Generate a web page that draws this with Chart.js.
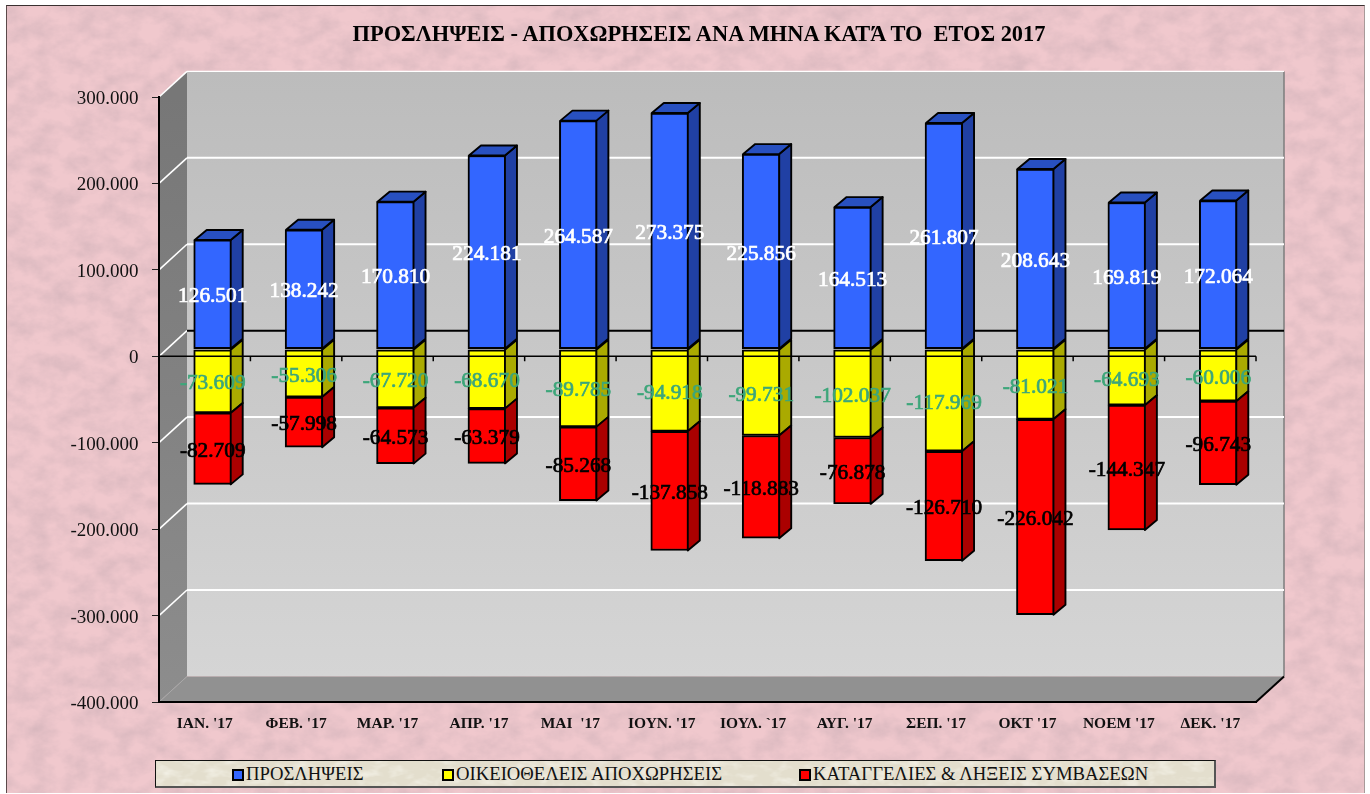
<!DOCTYPE html>
<html lang="el">
<head>
    <meta charset="UTF-8">
    <title>Προσλήψεις - Αποχωρήσεις 2017</title>
    <script src="https://cdn.jsdelivr.net/npm/chart.js"></script>
    <style>
        html, body { margin: 0; padding: 0; background: #fff; overflow: hidden; }
        #page { position: relative; width: 1370px; height: 794px; font-family: "Liberation Serif", serif; }
        #paper { position: absolute; left: 6px; top: 5px; width: 1359px; height: 788px; border-left: 1px solid #5a4a4a; border-top: 1px solid #3a3030; border-right: 1px solid #a89a9a; box-sizing: border-box; }
        #paper svg, #legend svg { display: block; width: 100%; height: 100%; }
        canvas { position: absolute; left: 0; top: 0; }
        #title { position: absolute; left: 340px; top: 21px; width: 718px; text-align: center; white-space: pre; font-size: 22.4px; font-weight: bold; color: #000; }
        #legend { position: absolute; left: 155px; top: 760px; width: 1061px; height: 28px; box-sizing: border-box; border: 1px solid #111; border-bottom: 2px solid #555; border-right: 2px solid #555; }
        #legend svg { position: absolute; left: 0; top: 0; }
        #legend span { position: absolute; top: 2px; font-size: 18.7px; line-height: 22px; white-space: nowrap; color: #111; }
        #legend i { position: absolute; top: 8px; width: 12px; height: 12px; box-sizing: border-box; border: 2px solid #000; }
    </style>
</head>
<body>
<div id="page">
    <div id="paper">
        <svg xmlns="http://www.w3.org/2000/svg">
            <filter id="mottle" x="0" y="0" width="100%" height="100%">
                <feTurbulence type="fractalNoise" baseFrequency="0.045 0.06" numOctaves="5" seed="11"/>
                <feColorMatrix type="matrix" values="0 0 0 0 0.66  0 0 0 0 0.46  0 0 0 0 0.50  1.3 0 0 0 -0.42"/>
            </filter>
            <rect width="100%" height="100%" fill="#f0c8cd"/>
            <rect width="100%" height="100%" filter="url(#mottle)"/>
        </svg>
    </div>
    <canvas id="chart" width="1370" height="794"></canvas>
    <div id="title"></div>
    <div id="legend">
        <svg xmlns="http://www.w3.org/2000/svg">
            <filter id="cloth" x="0" y="0" width="100%" height="100%">
                <feTurbulence type="fractalNoise" baseFrequency="0.06 0.12" numOctaves="3" seed="3"/>
                <feColorMatrix type="matrix" values="0 0 0 0 1  0 0 0 0 1  0 0 0 0 0.95  1.2 0 0 0 -0.55"/>
            </filter>
            <rect width="100%" height="100%" fill="#e3decd"/>
            <rect width="100%" height="100%" filter="url(#cloth)"/>
        </svg>
    </div>
</div>
<script>
    const titleText = "ΠΡΟΣΛΗΨΕΙΣ - ΑΠΟΧΩΡΗΣΕΙΣ ΑΝΑ ΜΗΝΑ ΚΑΤΆ ΤΟ  ΕΤΟΣ 2017";
    const months = ["ΙΑΝ. '17", "ΦΕΒ. '17", "ΜΑΡ. '17", "ΑΠΡ. '17", "ΜΑΙ  '17", "ΙΟΥΝ. '17", "ΙΟΥΛ. `17", "ΑΥΓ. '17", "ΣΕΠ. '17", "ΟΚΤ '17", "ΝΟΕΜ '17", "ΔΕΚ. '17"];
    const hires = [126501, 138242, 170810, 224181, 264587, 273375, 225856, 164513, 261807, 208643, 169819, 172064];
    const resignations = [-73609, -55306, -67720, -68670, -89785, -94918, -99731, -102037, -117969, -81021, -64693, -60006];
    const terminations = [-82709, -57998, -64573, -63379, -85268, -137858, -118883, -76878, -126710, -226042, -144347, -96743];
    const seriesNames = ["ΠΡΟΣΛΗΨΕΙΣ", "ΟΙΚΕΙΟΘΕΛΕΙΣ ΑΠΟΧΩΡΗΣΕΙΣ", "ΚΑΤΑΓΓΕΛΙΕΣ & ΛΗΞΕΙΣ ΣΥΜΒΑΣΕΩΝ"];

    const fontName = '"Liberation Serif", serif';
    const fmt = v => {
        const s = Math.abs(v).toString().replace(/\B(?=(\d{3})+$)/g, '.');
        return v < 0 ? '-' + s : s;
    };

    // title + legend are plain html so they can sit exactly where the original has them
    document.getElementById('title').textContent = titleText;
    const legendEl = document.getElementById('legend');
    const legendColors = ['#3366ff', '#ffff00', '#ff0000'];
    const legendSwatchX = [76, 286, 643];
    seriesNames.forEach((name, i) => {
        legendEl.insertAdjacentHTML('beforeend',
            `<i style="left:${legendSwatchX[i]}px;background:${legendColors[i]}"></i><span style="left:${legendSwatchX[i] + 14}px">${name.replace('&', '&amp;')}</span>`);
    });

    // depth of the fake 3d box, and how far into it the bars stand
    const boxDx = 28, boxDy = -25.6;
    const barDx = 8, barDy = -7;
    const sideDx = 12, sideDy = -10;

    const sideColors = ['#2040a4', '#aaaa00', '#aa0000'];
    const topColors = ['#2850c0', '#cccc00', '#cc0000'];
    const labelColors = ['#ffffff', '#3da67a', '#000000'];

    const box3d = {
        id: 'box3d',
        beforeDraw(chart) {
            const { ctx, chartArea: a, scales: { y } } = chart;
            ctx.save();
            let g = ctx.createLinearGradient(0, a.top + boxDy, 0, a.bottom + boxDy);
            g.addColorStop(0, '#bcbcbc');
            g.addColorStop(1, '#d5d5d5');
            ctx.fillStyle = g;
            ctx.fillRect(a.left + boxDx, a.top + boxDy, a.width, a.height);

            g = ctx.createLinearGradient(0, a.top, 0, a.bottom);
            g.addColorStop(0, '#777777');
            g.addColorStop(1, '#8d8d8d');
            ctx.fillStyle = g;
            ctx.beginPath();
            ctx.moveTo(a.left, a.top);
            ctx.lineTo(a.left + boxDx, a.top + boxDy);
            ctx.lineTo(a.left + boxDx, a.bottom + boxDy);
            ctx.lineTo(a.left, a.bottom);
            ctx.closePath();
            ctx.fill();

            ctx.fillStyle = '#919191';
            ctx.beginPath();
            ctx.moveTo(a.left, a.bottom);
            ctx.lineTo(a.left + boxDx, a.bottom + boxDy);
            ctx.lineTo(a.right + boxDx, a.bottom + boxDy);
            ctx.lineTo(a.right, a.bottom);
            ctx.closePath();
            ctx.fill();

            // right edge of the back wall and the corner of the floor
            ctx.strokeStyle = '#7d7d7d';
            ctx.lineWidth = 1.5;
            ctx.beginPath();
            ctx.moveTo(a.right + boxDx, a.top + boxDy);
            ctx.lineTo(a.right + boxDx, a.bottom + boxDy);
            ctx.stroke();
            ctx.strokeStyle = '#000';
            ctx.lineWidth = 2;
            ctx.beginPath();
            ctx.moveTo(a.right, a.bottom);
            ctx.lineTo(a.right + boxDx, a.bottom + boxDy);
            ctx.stroke();

            y.ticks.forEach(t => {
                const py = y.getPixelForValue(t.value);
                const isFloor = t.value === y.min;
                ctx.strokeStyle = isFloor ? '#a8a8a8' : '#ffffff';
                ctx.lineWidth = isFloor ? 1 : 1.6;
                ctx.beginPath();
                ctx.moveTo(a.left, py);
                ctx.lineTo(a.left + boxDx, py + boxDy);
                ctx.stroke();
                if (isFloor) return;
                ctx.strokeStyle = t.value === 0 ? '#000000' : '#ffffff';
                ctx.lineWidth = t.value === y.max ? 1.2 : 2;
                ctx.beginPath();
                ctx.moveTo(a.left + boxDx, py + boxDy);
                ctx.lineTo(a.right + boxDx, py + boxDy);
                ctx.stroke();
            });

            // y labels drawn here: the library centres them a bit high for this font
            ctx.font = '19px ' + fontName;
            ctx.fillStyle = '#111';
            ctx.textAlign = 'right';
            ctx.textBaseline = 'middle';
            y.ticks.forEach(t => {
                ctx.fillText(fmt(t.value), a.left - 20.5, y.getPixelForValue(t.value) + 2);
            });
            ctx.restore();
        },
        beforeDatasetsDraw(chart) {
            chart.ctx.save();
            chart.ctx.translate(barDx, barDy);
        },
        afterDatasetsDraw(chart) {
            const { ctx, chartArea: a, scales: { y } } = chart;
            // side and top faces, taken from the bars the library just laid out
            ctx.lineWidth = 1.9;
            ctx.strokeStyle = '#000';
            ctx.lineJoin = 'round';
            chart.data.datasets.forEach((ds, di) => {
                chart.getDatasetMeta(di).data.forEach(bar => {
                    const r = bar.x + bar.width / 2 - 1;
                    const l = bar.x - bar.width / 2 + 1;
                    ctx.fillStyle = sideColors[di];
                    ctx.beginPath();
                    ctx.moveTo(r, bar.y);
                    ctx.lineTo(r + sideDx, bar.y + sideDy);
                    ctx.lineTo(r + sideDx, bar.base + sideDy);
                    ctx.lineTo(r, bar.base);
                    ctx.closePath();
                    ctx.fill();
                    ctx.stroke();
                    if (di === 0) {
                        ctx.fillStyle = topColors[di];
                        ctx.beginPath();
                        ctx.moveTo(l, bar.y);
                        ctx.lineTo(l + sideDx, bar.y + sideDy);
                        ctx.lineTo(r + sideDx, bar.y + sideDy);
                        ctx.lineTo(r, bar.y);
                        ctx.closePath();
                        ctx.fill();
                        ctx.stroke();
                    }
                });
            });
            ctx.restore();

            // zero axis runs in front of the bars, with ticks between categories
            const zero = y.getPixelForValue(0);
            const step = a.width / months.length;
            ctx.save();
            ctx.strokeStyle = '#000';
            ctx.lineWidth = 1.5;
            ctx.beginPath();
            ctx.moveTo(a.left, zero);
            ctx.lineTo(a.right, zero);
            for (let i = 1; i <= months.length; i++) {
                ctx.moveTo(a.left + i * step, zero);
                ctx.lineTo(a.left + i * step, zero + 5);
            }
            ctx.stroke();

            // value labels
            ctx.font = '21.3px ' + fontName;
            ctx.textAlign = 'center';
            ctx.textBaseline = 'middle';
            ctx.lineWidth = 0.7;
            chart.data.datasets.forEach((ds, di) => {
                ctx.fillStyle = labelColors[di];
                ctx.strokeStyle = labelColors[di];
                chart.getDatasetMeta(di).data.forEach((bar, i) => {
                    const cy = (bar.y + bar.base) / 2 + barDy + 2.5;
                    ctx.fillText(fmt(ds.data[i]), bar.x + barDx, cy);
                    ctx.strokeText(fmt(ds.data[i]), bar.x + barDx, cy);
                });
            });
            ctx.restore();
        }
    };

    function makeSet(label, data, color) {
        return { label, data, backgroundColor: color, borderColor: '#000', borderWidth: 2, borderSkipped: false, barThickness: 38, stack: 'all', clip: false };
    }

    new Chart(document.getElementById('chart'), {
        type: 'bar',
        data: {
            labels: months,
            datasets: [
                makeSet(seriesNames[0], hires, '#3366ff'),
                makeSet(seriesNames[1], resignations, '#ffff00'),
                makeSet(seriesNames[2], terminations, '#ff0000')
            ]
        },
        plugins: [box3d],
        options: {
            responsive: false,
            animation: false,
            layout: { padding: { top: 97, right: 114, left: 0, bottom: 0 } },
            plugins: { legend: { display: false }, title: { display: false }, tooltip: { enabled: false } },
            scales: {
                x: {
                    stacked: true,
                    offset: true,
                    grid: { display: false },
                    border: { display: true, color: '#000', width: 2 },
                    ticks: { color: '#111', padding: 5, maxRotation: 0, autoSkip: false, font: { family: fontName, size: 15.5, weight: 'bold' } },
                    afterFit(scale) { scale.height = 92; }
                },
                y: {
                    stacked: true,
                    min: -400000,
                    max: 300000,
                    ticks: { stepSize: 100000, display: false },
                    grid: { drawOnChartArea: false, drawTicks: true, tickLength: 7, color: '#222' },
                    border: { display: true, color: '#000', width: 2 },
                    afterFit(scale) { scale.width = 159; }
                }
            }
        }
    });
</script>
</body>
</html>
